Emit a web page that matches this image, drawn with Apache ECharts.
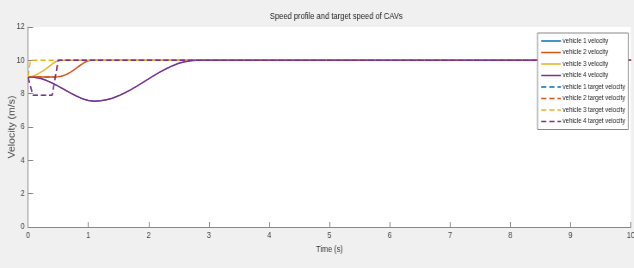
<!DOCTYPE html>
<html>
<head>
<meta charset="utf-8">
<script src="https://cdn.jsdelivr.net/npm/echarts@6/dist/echarts.min.js"></script>
<style>
  html, body { margin: 0; padding: 0; background: #f0f0f0; overflow: hidden; }
  #wrap { width: 634px; height: 268px; overflow: hidden; }
  /* the source screenshot is squeezed horizontally, so the chart is drawn wider and squeezed the same way */
  #chart { width: 737px; height: 268px; transform: scaleX(0.86); transform-origin: 0 0; }
</style>
</head>
<body>
<div id="wrap"><div id="chart"></div></div>
<script>
// values
const xTicks = [0, 1, 2, 3, 4, 5, 6, 7, 8, 9, 10];
const yTicks = [0, 2, 4, 6, 8, 10, 12];

// vehicle 4 velocity (dip to ~7.55 then back to 10)
const v4Time = [0, 0.1, 0.2, 0.3, 0.4, 0.5, 0.6, 0.7, 0.8, 0.9, 1.0, 1.1, 1.2, 1.3, 1.4, 1.5, 1.6, 1.7, 1.8, 1.9, 2.0, 2.1, 2.2, 2.3, 2.4, 2.5, 2.6, 2.7, 2.8, 10];
const v4Speed = [9.0, 8.98, 8.92, 8.8, 8.64, 8.45, 8.25, 8.05, 7.86, 7.7, 7.59, 7.55, 7.57, 7.63, 7.73, 7.87, 8.04, 8.23, 8.44, 8.66, 8.89, 9.11, 9.32, 9.51, 9.68, 9.82, 9.92, 9.98, 10, 10];

// vehicle 3 velocity
const v3Time = [0, 0.05, 0.1, 0.15, 0.2, 0.25, 0.3, 0.35, 0.4, 0.45, 0.5, 0.55, 10];
const v3Speed = [9.0, 9.02, 9.08, 9.16, 9.26, 9.37, 9.5, 9.64, 9.78, 9.9, 9.98, 10, 10];

// vehicle 2 velocity
const v2Time = [0, 0.45, 0.5, 0.55, 0.6, 0.65, 0.7, 0.75, 0.8, 0.85, 0.9, 0.95, 1.0, 1.05, 10];
const v2Speed = [9.0, 9.0, 9.01, 9.04, 9.1, 9.18, 9.28, 9.4, 9.53, 9.66, 9.79, 9.9, 9.97, 10, 10];

// vehicle 1 velocity is not visible in the picture (hidden under vehicle 4)
const v1Time = v4Time;
const v1Speed = v4Speed;

// target speeds
const t4Time = [0, 0.08, 0.4, 0.5, 10];
const t4Speed = [9.0, 7.9, 7.9, 10, 10];
const t3Time = [0, 0.04, 10];
const t3Speed = [9.0, 10, 10];
const t2Time = [0, 0.45, 0.5, 10];
const t2Speed = [9.0, 9.0, 10, 10];
const t1Time = t4Time;
const t1Speed = t4Speed;

const names = [
  'vehicle 1 velocity', 'vehicle 2 velocity', 'vehicle 3 velocity', 'vehicle 4 velocity',
  'vehicle 1 target velocity', 'vehicle 2 target velocity', 'vehicle 3 target velocity', 'vehicle 4 target velocity'
];
const colors = ['#0072BD', '#D95319', '#EDB120', '#7E2F8E'];

const pairs = (ts, vs) => ts.map((t, i) => [t, vs[i]]);
const lines = [
  pairs(v1Time, v1Speed), pairs(v2Time, v2Speed), pairs(v3Time, v3Speed), pairs(v4Time, v4Speed),
  pairs(t1Time, t1Speed), pairs(t2Time, t2Speed), pairs(t3Time, t3Speed), pairs(t4Time, t4Speed)
];

const font = "'Liberation Sans', Arial, sans-serif";
const dash = [6, 3.5];

const chart = echarts.init(document.getElementById('chart'));
const option = {
  backgroundColor: '#f0f0f0',
  animation: false,
  title: {
    text: 'Speed profile and target speed of CAVs',
    left: 386,
    textAlign: 'center',
    top: 7,
    textStyle: { fontFamily: font, fontSize: 8.8, fontWeight: 'normal', color: '#222' }
  },
  legend: {
    // legend keeps full-width lines even for the hidden vehicle 1
    data: names.map((n, i) => ({
      name: n,
      itemStyle: { opacity: 0 },
      lineStyle: { width: 1.5, color: colors[i % 4], type: i < 4 ? 'solid' : dash }
    })),
    orient: 'vertical',
    left: 625,
    top: 33,
    padding: [4, 3.5, 4, 3.5],
    itemWidth: 23,
    itemHeight: 8,
    itemGap: 3.5,
    backgroundColor: '#fff',
    borderColor: '#888',
    borderWidth: 1,
    borderRadius: 0,
    textStyle: { fontFamily: font, fontSize: 7, lineHeight: 8, color: '#222', padding: [0, 0, 0, -3] }
  },
  grid: {
    left: 32.6, right: 3.5, top: 27, bottom: 41,
    outerBoundsMode: 'none',
    containLabel: false,
    show: true, backgroundColor: '#fff', borderWidth: 0
  },
  xAxis: {
    type: 'value',
    min: xTicks[0], max: xTicks[xTicks.length - 1], interval: 1,
    name: 'Time (s)', nameLocation: 'middle', nameGap: 17,
    nameTextStyle: { fontFamily: font, fontSize: 8.6, color: '#333' },
    axisLine: { show: true, lineStyle: { color: '#888' } },
    axisTick: { show: true, inside: true, length: 5, lineStyle: { color: '#888' } },
    axisLabel: { fontFamily: font, fontSize: 8.4, color: '#444', margin: 5 },
    splitLine: { show: false }
  },
  yAxis: {
    type: 'value',
    min: yTicks[0], max: yTicks[yTicks.length - 1], interval: 2,
    name: 'Velocity (m/s)', nameLocation: 'middle', nameGap: 13, nameRotate: 90,
    nameMoveOverlap: false,
    nameTextStyle: { fontFamily: font, fontSize: 10.5, color: '#444' },
    axisLine: { show: true, lineStyle: { color: '#888' } },
    axisTick: { show: true, inside: true, length: 6, lineStyle: { color: '#888' } },
    axisLabel: { fontFamily: font, fontSize: 8.4, color: '#444', margin: 4 },
    splitLine: { show: false }
  },
  series: lines.map((d, i) => ({
    name: names[i],
    type: 'line',
    data: d,
    showSymbol: false,
    symbol: 'none',
    color: colors[i % 4],
    lineStyle: {
      // vehicle 1 lies exactly under vehicle 4, drawn thinner so it stays hidden
      width: i % 4 === 0 ? 1 : 1.5,
      color: colors[i % 4],
      type: i < 4 ? 'solid' : dash
    }
  }))
};

option && chart.setOption(option);
</script>
</body>
</html>
